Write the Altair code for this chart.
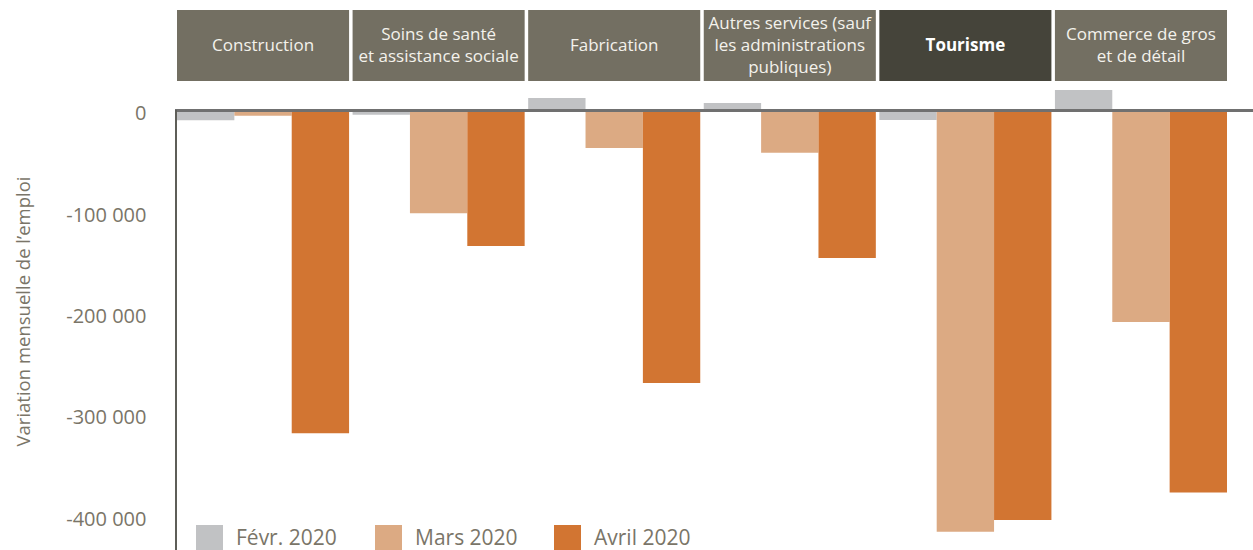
import altair as alt
import pandas as pd

categories = [
    "Construction",
    "Soins de santé\net assistance sociale",
    "Fabrication",
    "Autres services (sauf\nles administrations\npubliques)",
    "Tourisme",
    "Commerce de gros\net de détail",
]
months = ["Févr. 2020", "Mars 2020", "Avril 2020"]
feb = [-9500, -4000, 12500, 7600, -9200, 20400]
mar = [-5000, -101000, -36800, -41400, -415300, -208300]
apr = [-318000, -133400, -268500, -145300, -403500, -376600]
y_ticks = [0, -100000, -200000, -300000, -400000]
highlight = "Tourisme"

rows = []
for i, c in enumerate(categories):
    for m, vals in zip(months, [feb, mar, apr]):
        rows.append({"cat": c, "month": m, "value": vals[i]})
df = pd.DataFrame(rows)
hdr = pd.DataFrame({
    "cat": categories,
    "hl": [c == highlight for c in categories],
    "nlines": [c.count("\n") + 1 for c in categories],
})

FONT = "Open Sans"
GREY_TXT = "#7a7568"
colors = ["#c1c2c4", "#dcaa83", "#d27532"]

xscale = alt.Scale(domain=categories, range=[2, 1052], paddingInner=0.02, paddingOuter=0)
yscale = alt.Scale(domain=[-433200, 109200], nice=False, zero=False)

bars = alt.Chart(df).mark_bar().encode(
    x=alt.X("cat:N", scale=xscale, axis=None, sort=categories),
    xOffset=alt.XOffset("month:N", scale=alt.Scale(domain=months, paddingInner=0, paddingOuter=0)),
    y=alt.Y(
        "value:Q",
        scale=yscale,
        axis=alt.Axis(
            values=y_ticks,
            labelExpr="datum.value == 0 ? '0' : '-' + format(abs(datum.value) / 1000, 'd') + ' 000'",
            labelFont=FONT,
            labelFontSize=20,
            labelColor=GREY_TXT,
            labelPadding=29,
            labelOffset=3,
            ticks=False,
            grid=False,
            domain=False,
            title="Variation mensuelle de l’emploi",
            titleFont=FONT,
            titleFontSize=18.5,
            titleFontWeight="normal",
            titleColor=GREY_TXT,
            titleAngle=-90,
            titleAlign="center",
            titleBaseline="middle",
            titleX=-152,
            titleY=311,
        ),
    ),
    y2=alt.datum(0),
    color=alt.Color(
        "month:N",
        scale=alt.Scale(domain=months, range=colors),
        legend=alt.Legend(
            title=None,
            orient="none",
            legendX=21,
            legendY=525,
            direction="horizontal",
            symbolType="square",
            symbolSize=729,
            symbolStrokeWidth=0,
            symbolOpacity=1,
            labelFont=FONT,
            labelFontSize=21,
            labelColor=GREY_TXT,
            labelOffset=13,
            columnPadding=36,
            padding=0,
            gridAlign="all",
        ),
    ),
)

zero_line = alt.Chart(df).mark_rule(color="#707070", strokeWidth=2).encode(
    y=alt.Y(datum=0),
    x=alt.value(0),
    x2=alt.value(1078),
)

vert_line = alt.Chart(df).mark_rule(color="#5e5e58", strokeWidth=2).encode(
    x=alt.value(1),
    y=alt.Y(datum=0),
    y2=alt.value(550),
)

hdr_rect = alt.Chart(hdr).mark_rect().encode(
    x=alt.X("cat:N", scale=xscale, sort=categories),
    y=alt.value(10),
    y2=alt.value(81),
    color=alt.Color(
        "hl:N",
        scale=alt.Scale(domain=[False, True], range=["#736f62", "#45443a"]),
        legend=None,
    ),
)

LH = 22
CENTER = 46


def header_text(n, bold):
    cond = f"datum.nlines == {n} && " + ("datum.hl" if bold else "!datum.hl")
    return alt.Chart(hdr).transform_filter(cond).mark_text(
        font=FONT, fontSize=17, color="#ffffff" if bold else "#f4f2ec",
        fontWeight="bold" if bold else "normal",
        lineBreak="\n", lineHeight=LH, baseline="middle", align="center",
    ).encode(
        x=alt.X("cat:N", scale=xscale, sort=categories, bandPosition=0.5),
        y=alt.value(CENTER - (n - 1) * LH / 2),
        text="cat:N",
    )


texts = [header_text(n, b) for n in (1, 2, 3) for b in (False, True)]

chart = alt.layer(bars, zero_line, vert_line, hdr_rect, *texts).resolve_scale(
    color="independent"
).properties(
    width=1078,
    height=550,
    autosize=alt.AutoSizeParams(type="none"),
    padding={"left": 175, "top": 0, "right": 0, "bottom": 0},
).configure_view(stroke=None)

chart.save("out.html", embed_options={"renderer": "svg", "actions": False})
